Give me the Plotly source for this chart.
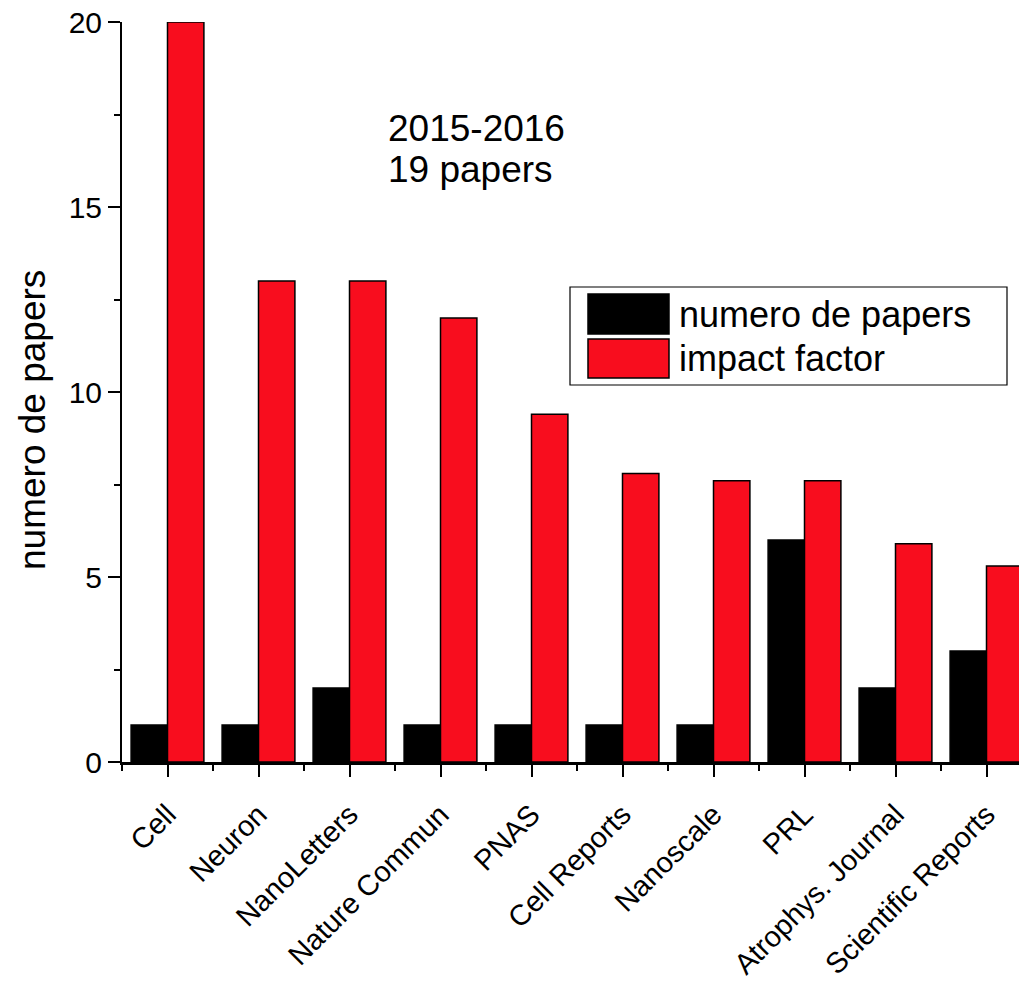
import plotly.graph_objects as go

journals = ["Cell", "Neuron", "NanoLetters", "Nature Commun", "PNAS", "Cell Reports",
            "Nanoscale", "PRL", "Atrophys. Journal", "Scientific Reports"]
num_papers = [1, 1, 2, 1, 1, 1, 1, 6, 2, 3]
impact_factor = [20, 13, 13, 12, 9.4, 7.8, 7.6, 7.6, 5.9, 5.3]
series_names = ["numero de papers", "impact factor"]
series_colors = ["#000000", "#F80D1E"]
y_ticks = [0, 5, 10, 15, 20]

W, H = 1019, 983
# plot box in page pixels: left 122, top 22, bottom 762, right edge at page edge
L, T, B, R = 122, 22, 983 - 762, 0
PW, PH = W - L - R, H - T - B
FONT = "Liberation Sans, Arial, sans-serif"

def px(x):  # page px -> paper
    return (x - L) / PW

def py(y):
    return (H - B - y) / PH

xs = list(range(len(journals)))

fig = go.Figure()
for name, vals, col in zip(series_names, [num_papers, impact_factor], series_colors):
    fig.add_trace(go.Bar(x=xs, y=vals, name=name,
                         marker=dict(color=col, line=dict(color="black", width=1.5))))

fig.update_layout(
    template="none",
    width=W, height=H,
    margin=dict(l=L, r=R, t=T, b=B, pad=0, autoexpand=False),
    paper_bgcolor="white", plot_bgcolor="white",
    barmode="group", bargap=0.2, bargroupgap=0,
    showlegend=False,
    font=dict(family=FONT, color="black"),
)
fig.update_xaxes(
    automargin=False,
    range=[-0.5, -0.5 + PW / 91.0],
    tickmode="array", tickvals=xs, ticktext=journals, tickangle=-45,
    tickfont=dict(size=29), ticklabelstandoff=9,
    ticks="outside", ticklen=12, tickwidth=2, tickcolor="black",
    showline=True, linewidth=3, linecolor="black",
    showgrid=False, zeroline=False,
    minor=dict(tickmode="array", tickvals=[i - 0.5 for i in xs] + [len(xs) - 0.5],
               ticks="outside", ticklen=6, tickwidth=2, tickcolor="black", showgrid=False),
)
fig.update_yaxes(
    automargin=False,
    range=[0, 20.001], tickmode="array", tickvals=y_ticks,
    tickfont=dict(size=30),
    ticks="outside", ticklen=12, tickwidth=2, tickcolor="black",
    showline=True, linewidth=2, linecolor="black",
    showgrid=False, zeroline=False,
    minor=dict(tickmode="array", tickvals=[2.5, 7.5, 12.5, 17.5],
               ticks="outside", ticklen=6, tickwidth=2, tickcolor="black", showgrid=False),
)

# y axis title (placed as in the reference, slightly below the axis centre)
fig.add_annotation(x=px(32), y=py(420), xref="paper", yref="paper",
                   xanchor="center", yanchor="middle", showarrow=False, textangle=-90,
                   text="numero de papers", font=dict(size=37, family=FONT))

# text annotation
fig.add_annotation(x=px(386), y=py(129), xref="paper", yref="paper",
                   xanchor="left", yanchor="middle", align="left", showarrow=False,
                   text="2015-2016", font=dict(size=37, family=FONT))
fig.add_annotation(x=px(386), y=py(170), xref="paper", yref="paper",
                   xanchor="left", yanchor="middle", align="left", showarrow=False,
                   text="19 papers", font=dict(size=37, family=FONT))

# custom legend (box + swatches + labels)
fig.add_shape(type="rect", xref="paper", yref="paper",
              x0=px(570), x1=px(1007), y0=py(385), y1=py(287),
              line=dict(color="black", width=1.2), fillcolor="white", layer="above")
sw = [(294, 334), (339, 378)]
tc = [314, 358]
for (y0, y1), yc, name, col in zip(sw, tc, series_names, series_colors):
    fig.add_shape(type="rect", xref="paper", yref="paper",
                  x0=px(588), x1=px(669), y0=py(y1), y1=py(y0),
                  line=dict(color="black", width=1.5), fillcolor=col, layer="above")
    fig.add_annotation(x=px(677), y=py(yc), xref="paper", yref="paper",
                       xanchor="left", yanchor="middle", showarrow=False,
                       text=name, font=dict(size=36, family=FONT))

# remove the default 8px page margin so the figure sits at the window's top-left corner
fig.write_html("out.html", config={"displayModeBar": False},
               post_script="document.body.style.margin='0';document.body.style.overflow='hidden';")
